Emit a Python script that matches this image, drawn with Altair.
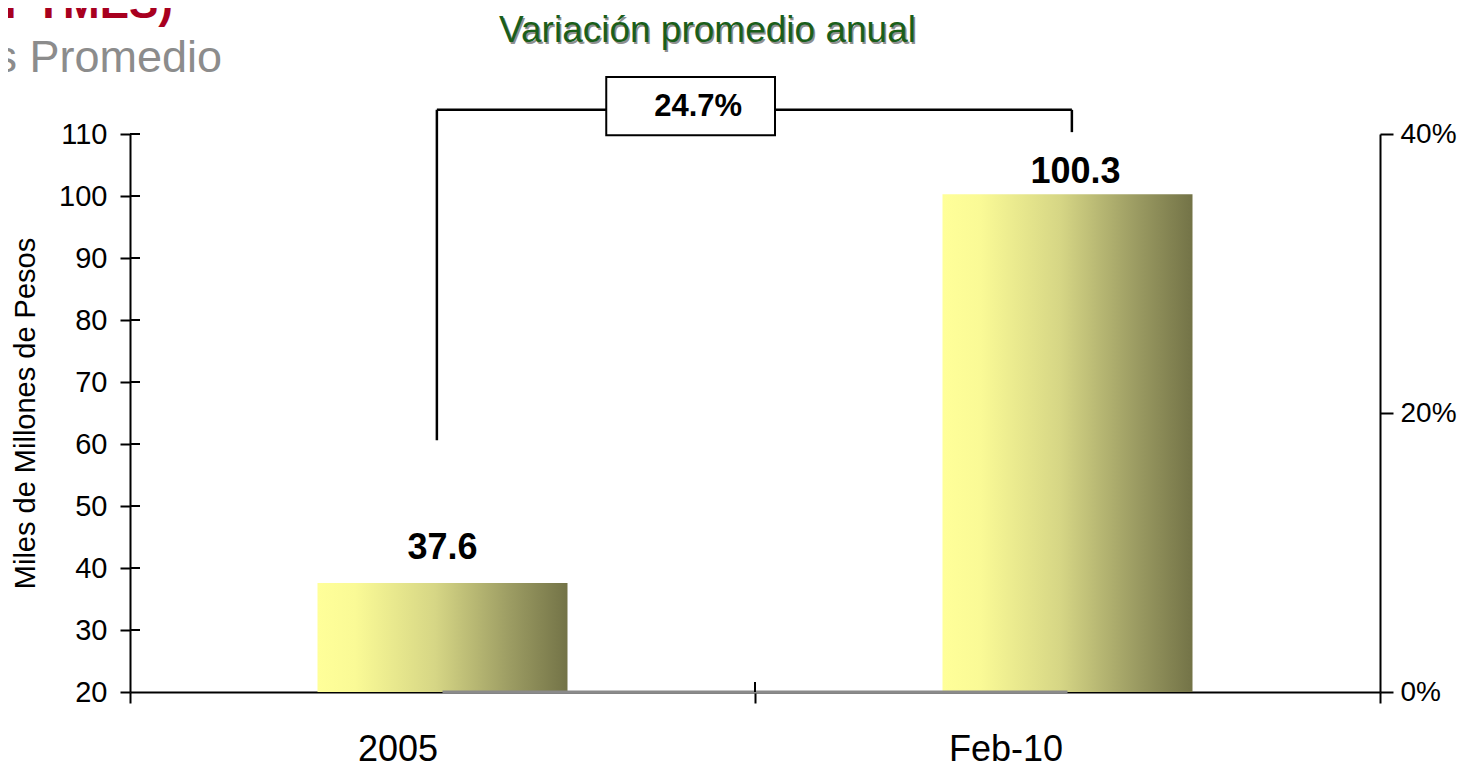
import altair as alt
import pandas as pd

# ---------------- data ----------------
categories = ["2005", "Feb-10"]
values = [37.6, 100.3]
value_labels = ["37.6", "100.3"]
pct_series = [0.0, 0.0]            # secondary-axis series (flat at 0%)
y_ticks = [20, 30, 40, 50, 60, 70, 80, 90, 100, 110]
pct_ticks = [0.0, 0.2, 0.4]
growth_label = "24.7%"
y_title = "Miles de Millones de Pesos"
chart_title = "Variación promedio anual"
top_title_red = "(PYMES)"
top_title_gray = "Saldos Promedio"

# ---------------- layout / style ----------------
W, H = 1250, 558
Y_DOMAIN = [20, 110]
PX_PER_UNIT = H / (Y_DOMAIN[1] - Y_DOMAIN[0])
label_gap_px = [24, 11]
label_dx = [0, 8]
FONT = "Liberation Sans"

# annotation geometry (category units: 2005 centre = 0.5, Feb-10 centre = 1.5)
bracket = pd.DataFrame({
    "x":  [0.491, 0.491, 1.507],
    "x2": [0.491, 1.507, 1.507],
    "y":  [60.6, 113.9, 110.3],
    "y2": [113.9, 113.9, 113.9],
})
box = pd.DataFrame({"x": [0.762], "x2": [1.032], "y": [109.8], "y2": [119.2]})
box_text = pd.DataFrame({"x": [0.909], "y": [114.3], "t": [growth_label]})

df = pd.DataFrame({"cat": categories, "val": values, "label": value_labels,
                   "gap": label_gap_px, "pct": pct_series})
df["label_y"] = df["val"] + df["gap"] / PX_PER_UNIT

xband_scale = alt.Scale(domain=categories, paddingInner=0, paddingOuter=0)
yscale = alt.Scale(domain=Y_DOMAIN, zero=False, nice=False)
xq_scale = alt.Scale(domain=[0, 2], nice=False, zero=False)

gradient = alt.Gradient(
    gradient="linear",
    stops=[
        alt.GradientStop(color="#FFFF99", offset=0),
        alt.GradientStop(color="#FAFA96", offset=0.15),
        alt.GradientStop(color="#D6D685", offset=0.47),
        alt.GradientStop(color="#9E9E64", offset=0.76),
        alt.GradientStop(color="#737347", offset=1),
    ],
    x1=0, x2=1, y1=0, y2=0,
)

bars = alt.Chart(df).mark_bar(width=alt.RelativeBandSize(0.4), color=gradient).encode(
    x=alt.X("cat:N", sort=categories, scale=xband_scale,
            axis=alt.Axis(title=None, tickBand="extent", labelAngle=0,
                          labelAlign="right", labelOffset=-5,
                          labelFontSize=36, labelPadding=29, tickSize=11,
                          tickWidth=2, domainWidth=2, labelColor="black",
                          tickColor="black", domainColor="black", grid=False)),
    y=alt.Y("val:Q", scale=yscale,
            axis=alt.Axis(values=y_ticks, title=y_title, titleFontSize=29,
                          titleFontWeight="normal", titleColor="black",
                          titleX=-96, titleY=H / 2, titleBaseline="alphabetic",
                          labelFontSize=29, labelPadding=13, tickSize=10,
                          tickWidth=2, domainWidth=2, labelColor="black",
                          tickColor="black", domainColor="black", grid=False)),
    y2=alt.datum(Y_DOMAIN[0]),
)

label_layers = []
for cat, dx in zip(categories, label_dx):
    label_layers.append(
        alt.Chart(df).transform_filter(alt.datum.cat == cat).mark_text(
            fontSize=36, fontWeight="bold", baseline="alphabetic",
            color="black", dx=dx).encode(
            x=alt.X("cat:N", sort=categories, scale=xband_scale, axis=None),
            y=alt.Y("label_y:Q", scale=yscale, axis=None),
            text="label:N",
        )
    )

pct_line = alt.Chart(df).mark_line(color="#8a8a8a", strokeWidth=3).encode(
    x=alt.X("cat:N", sort=categories, scale=xband_scale, axis=None),
    y=alt.Y("pct:Q", scale=alt.Scale(domain=[0, 0.4], nice=False),
            axis=alt.Axis(orient="right", values=pct_ticks, format=".0%", title=None,
                          labelFontSize=28, labelPadding=7, tickSize=13,
                          tickWidth=2, domainWidth=2, labelColor="black",
                          tickColor="black", domainColor="black", grid=False)),
)

inner_y_ticks = alt.Chart(pd.DataFrame({"t": y_ticks[1:]})).mark_rule(
    color="black", strokeWidth=2).encode(
    y=alt.Y("t:Q", scale=yscale, axis=None),
    x=alt.value(0), x2=alt.value(10),
)

inner_x_ticks = alt.Chart(pd.DataFrame({"b": [1]})).mark_rule(
    color="black", strokeWidth=2).encode(
    x=alt.X("b:Q", scale=xq_scale, axis=None),
    y=alt.value(H - 10), y2=alt.value(H),
)

bracket_lines = alt.Chart(bracket).mark_rule(color="black", strokeWidth=2.5).encode(
    x=alt.X("x:Q", scale=xq_scale, axis=None), x2="x2:Q",
    y=alt.Y("y:Q", scale=yscale, axis=None), y2="y2:Q",
)

box_rect = alt.Chart(box).mark_rect(fill="white", stroke="black", strokeWidth=2).encode(
    x=alt.X("x:Q", scale=xq_scale, axis=None), x2="x2:Q",
    y=alt.Y("y:Q", scale=yscale, axis=None), y2="y2:Q",
)

box_label = alt.Chart(box_text).mark_text(fontSize=31, fontWeight="bold",
                                          baseline="middle", color="black").encode(
    x=alt.X("x:Q", scale=xq_scale, axis=None),
    y=alt.Y("y:Q", scale=yscale, axis=None),
    text="t:N",
)

title_shadow = alt.Chart(pd.DataFrame({"t": [chart_title]})).mark_text(
    fontSize=37, color="#8f8f8f", align="center", baseline="alphabetic", dx=1.5, dy=1.5).encode(
    x=alt.value(577.5), y=alt.value(-92), text="t:N")
title_main = alt.Chart(pd.DataFrame({"t": [chart_title]})).mark_text(
    fontSize=37, color="#1A5E1A", align="center", baseline="alphabetic").encode(
    x=alt.value(577.5), y=alt.value(-92), text="t:N")

red_text = alt.Chart(pd.DataFrame({"t": [top_title_red]})).mark_text(
    fontSize=44, fontWeight="bold", color="#A8001F", align="right",
    baseline="alphabetic").encode(x=alt.value(43), y=alt.value(-116), text="t:N")
gray_text = alt.Chart(pd.DataFrame({"t": [top_title_gray]})).mark_text(
    fontSize=45, color="#8C8C8C", align="right",
    baseline="alphabetic").encode(x=alt.value(92), y=alt.value(-62), text="t:N")

chart = alt.layer(
    bars, pct_line, *label_layers, inner_y_ticks, inner_x_ticks,
    bracket_lines, box_rect, box_label,
    title_shadow, title_main, red_text, gray_text,
).resolve_scale(
    x="independent", y="independent"
).properties(
    width=W, height=H,
    autosize=alt.AutoSizeParams(type="none"),
    padding={"left": 122, "top": 126, "right": 77, "bottom": 75},
).configure(
    font=FONT,
).configure_view(
    stroke="transparent",
)

chart.save("out.html", embed_options={"renderer": "svg", "actions": False})
